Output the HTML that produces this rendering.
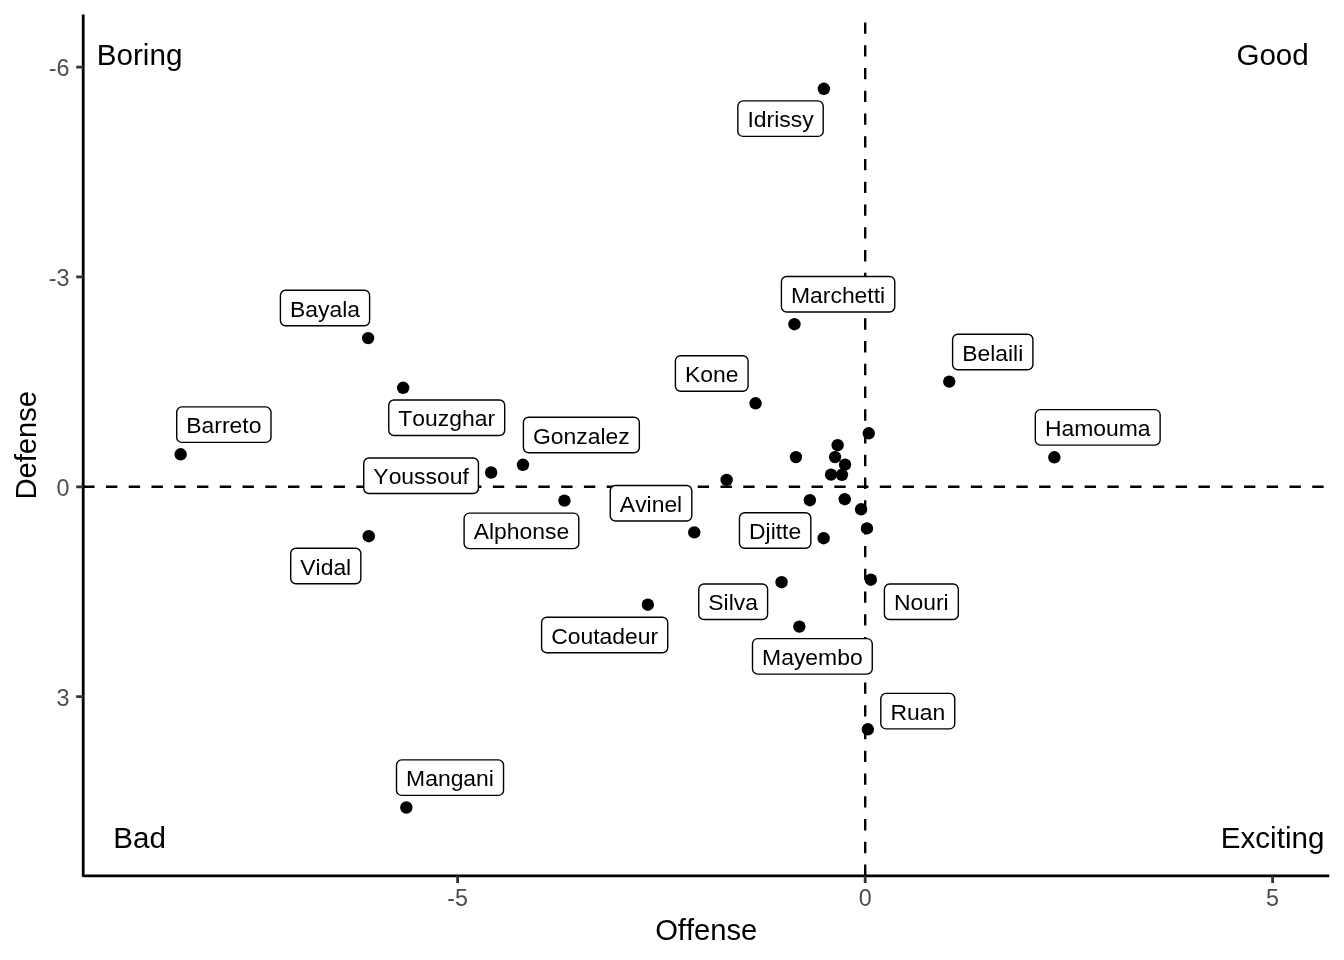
<!DOCTYPE html>
<html><head><meta charset="utf-8"><style>
html,body{margin:0;padding:0;background:#fff;width:1344px;height:960px;overflow:hidden}
svg{display:block;will-change:transform;font-family:"Liberation Sans",sans-serif;font-kerning:none}
text{font-kerning:none}
</style></head><body>
<svg width="1344" height="960" viewBox="0 0 1344 960">
<rect width="1344" height="960" fill="#fff"/>

<path d="M83.2,486.8H1329.3" stroke="#000" stroke-width="2.4" stroke-dasharray="11.38 11.38" fill="none"/>
<path d="M865.2,875.9V14.6" stroke="#000" stroke-width="2.4" stroke-dasharray="11.38 11.38" fill="none"/>
<g fill="#000"><circle cx="823.85" cy="88.80" r="6.2"/><circle cx="368.15" cy="338.10" r="6.2"/><circle cx="403.15" cy="387.80" r="6.2"/><circle cx="180.65" cy="454.30" r="6.2"/><circle cx="522.95" cy="464.80" r="6.2"/><circle cx="491.15" cy="472.50" r="6.2"/><circle cx="564.45" cy="500.60" r="6.2"/><circle cx="368.75" cy="536.20" r="6.2"/><circle cx="406.35" cy="807.50" r="6.2"/><circle cx="647.85" cy="604.70" r="6.2"/><circle cx="694.25" cy="532.40" r="6.2"/><circle cx="755.55" cy="403.30" r="6.2"/><circle cx="794.45" cy="324.20" r="6.2"/><circle cx="949.25" cy="381.60" r="6.2"/><circle cx="1054.35" cy="457.30" r="6.2"/><circle cx="781.55" cy="582.20" r="6.2"/><circle cx="799.35" cy="626.60" r="6.2"/><circle cx="823.65" cy="538.20" r="6.2"/><circle cx="870.85" cy="579.70" r="6.2"/><circle cx="867.85" cy="729.30" r="6.2"/><circle cx="726.65" cy="479.90" r="6.2"/><circle cx="795.95" cy="457.10" r="6.2"/><circle cx="837.65" cy="445.20" r="6.2"/><circle cx="835.05" cy="457.10" r="6.2"/><circle cx="845.05" cy="464.60" r="6.2"/><circle cx="831.05" cy="474.60" r="6.2"/><circle cx="841.95" cy="474.80" r="6.2"/><circle cx="868.75" cy="433.30" r="6.2"/><circle cx="809.85" cy="500.20" r="6.2"/><circle cx="844.75" cy="499.20" r="6.2"/><circle cx="861.05" cy="509.30" r="6.2"/><circle cx="866.95" cy="528.40" r="6.2"/></g>
<g><rect x="737.85" y="100.89999999999999" width="85.36" height="35.5" rx="5.2" fill="#fff" stroke="#000" stroke-width="1.4"/><text x="780.53" y="127.25" text-anchor="middle" font-size="22.9">Idrissy</text><rect x="280.4" y="290.3" width="89.22" height="35.5" rx="5.2" fill="#fff" stroke="#000" stroke-width="1.4"/><text x="325.01" y="316.65" text-anchor="middle" font-size="22.9">Bayala</text><rect x="388.75" y="400.05" width="115.94" height="35.5" rx="5.2" fill="#fff" stroke="#000" stroke-width="1.4"/><text x="446.72" y="426.40" text-anchor="middle" font-size="22.9">Touzghar</text><rect x="176.7" y="406.90000000000003" width="94.30" height="35.5" rx="5.2" fill="#fff" stroke="#000" stroke-width="1.4"/><text x="223.85" y="433.25" text-anchor="middle" font-size="22.9">Barreto</text><rect x="523.4" y="417.3" width="115.94" height="35.5" rx="5.2" fill="#fff" stroke="#000" stroke-width="1.4"/><text x="581.37" y="443.65" text-anchor="middle" font-size="22.9">Gonzalez</text><rect x="363.75" y="458.05" width="114.68" height="35.5" rx="5.2" fill="#fff" stroke="#000" stroke-width="1.4"/><text x="421.09" y="484.40" text-anchor="middle" font-size="22.9">Youssouf</text><rect x="464.1" y="513.0999999999999" width="114.69" height="35.5" rx="5.2" fill="#fff" stroke="#000" stroke-width="1.4"/><text x="521.45" y="539.45" text-anchor="middle" font-size="22.9">Alphonse</text><rect x="290.7" y="548.3" width="70.12" height="35.5" rx="5.2" fill="#fff" stroke="#000" stroke-width="1.4"/><text x="325.76" y="574.65" text-anchor="middle" font-size="22.9">Vidal</text><rect x="396.5" y="759.9" width="107.04" height="35.5" rx="5.2" fill="#fff" stroke="#000" stroke-width="1.4"/><text x="450.02" y="786.25" text-anchor="middle" font-size="22.9">Mangani</text><rect x="541.6" y="617.1999999999999" width="126.14" height="35.5" rx="5.2" fill="#fff" stroke="#000" stroke-width="1.4"/><text x="604.67" y="643.55" text-anchor="middle" font-size="22.9">Coutadeur</text><rect x="610.25" y="485.55" width="81.57" height="35.5" rx="5.2" fill="#fff" stroke="#000" stroke-width="1.4"/><text x="651.04" y="511.90" text-anchor="middle" font-size="22.9">Avinel</text><rect x="675.4" y="355.7" width="72.68" height="35.5" rx="5.2" fill="#fff" stroke="#000" stroke-width="1.4"/><text x="711.74" y="382.05" text-anchor="middle" font-size="22.9">Kone</text><rect x="781.4" y="276.55" width="113.37" height="35.5" rx="5.2" fill="#fff" stroke="#000" stroke-width="1.4"/><text x="838.09" y="302.90" text-anchor="middle" font-size="22.9">Marchetti</text><rect x="952.6" y="334.3" width="80.30" height="35.5" rx="5.2" fill="#fff" stroke="#000" stroke-width="1.4"/><text x="992.75" y="360.65" text-anchor="middle" font-size="22.9">Belaili</text><rect x="1035.3" y="409.6" width="124.83" height="35.5" rx="5.2" fill="#fff" stroke="#000" stroke-width="1.4"/><text x="1097.72" y="435.95" text-anchor="middle" font-size="22.9">Hamouma</text><rect x="698.75" y="584.05" width="68.84" height="35.5" rx="5.2" fill="#fff" stroke="#000" stroke-width="1.4"/><text x="733.17" y="610.40" text-anchor="middle" font-size="22.9">Silva</text><rect x="752.5" y="638.5999999999999" width="119.75" height="35.5" rx="5.2" fill="#fff" stroke="#000" stroke-width="1.4"/><text x="812.37" y="664.95" text-anchor="middle" font-size="22.9">Mayembo</text><rect x="739.45" y="512.6999999999999" width="71.37" height="35.5" rx="5.2" fill="#fff" stroke="#000" stroke-width="1.4"/><text x="775.14" y="539.05" text-anchor="middle" font-size="22.9">Djitte</text><rect x="884.4" y="584.05" width="73.92" height="35.5" rx="5.2" fill="#fff" stroke="#000" stroke-width="1.4"/><text x="921.36" y="610.40" text-anchor="middle" font-size="22.9">Nouri</text><rect x="880.8" y="693.4" width="73.95" height="35.5" rx="5.2" fill="#fff" stroke="#000" stroke-width="1.4"/><text x="917.77" y="719.75" text-anchor="middle" font-size="22.9">Ruan</text></g>
<path d="M83.2,14.6V876.6999999999999" stroke="#000" stroke-width="2.8" fill="none"/>
<path d="M83.0,875.9H1329.3" stroke="#000" stroke-width="2.8" fill="none"/>
<path d="M76.2,67.1H83.2M76.2,276.95H83.2M76.2,486.8H83.2M76.2,696.7H83.2M457.6,875.9V882.9M865.2,875.9V882.9M1272.6,875.9V882.9" stroke="#333" stroke-width="2.8" fill="none"/>
<text x="69.40" y="76.10" text-anchor="end" font-size="23.3" fill="#4d4d4d">-6</text>
<text x="69.40" y="285.95" text-anchor="end" font-size="23.3" fill="#4d4d4d">-3</text>
<text x="69.40" y="495.80" text-anchor="end" font-size="23.3" fill="#4d4d4d">0</text>
<text x="69.40" y="705.70" text-anchor="end" font-size="23.3" fill="#4d4d4d">3</text>
<text x="457.6" y="906.20" text-anchor="middle" font-size="23.3" fill="#4d4d4d">-5</text>
<text x="865.2" y="906.20" text-anchor="middle" font-size="23.3" fill="#4d4d4d">0</text>
<text x="1272.6" y="906.20" text-anchor="middle" font-size="23.3" fill="#4d4d4d">5</text>
<text x="706.25" y="939.8" text-anchor="middle" font-size="29.2">Offense</text>
<text transform="translate(36,445.25) rotate(-90)" x="0" y="0" text-anchor="middle" font-size="29.2">Defense</text>
<text x="139.6" y="64.85" text-anchor="middle" font-size="29.6">Boring</text>
<text x="1272.6" y="64.85" text-anchor="middle" font-size="29.6">Good</text>
<text x="139.6" y="847.8" text-anchor="middle" font-size="29.6">Bad</text>
<text x="1272.6" y="847.8" text-anchor="middle" font-size="29.6">Exciting</text>
</svg></body></html>
